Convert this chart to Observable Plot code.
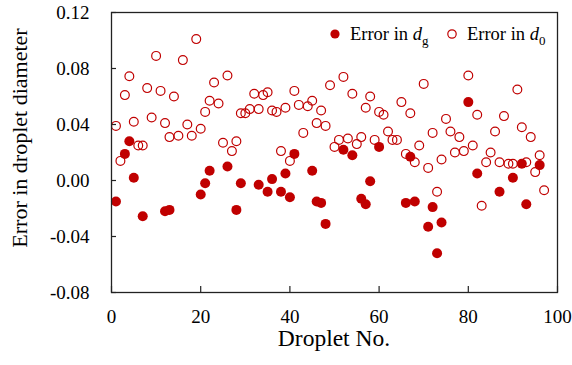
<!DOCTYPE html>
<html><head><meta charset="utf-8">
<script src="https://cdn.jsdelivr.net/npm/d3@7"></script>
<script src="https://cdn.jsdelivr.net/npm/@observablehq/plot@0.6"></script>
<style>
body{margin:0;background:#fff;}
#wrap{width:572px;height:365px;}
#wrap svg, #wrap svg text, #wrap svg tspan { font-family: "Liberation Serif", "Times New Roman", Tinos, serif !important; font-variant: normal !important; }
</style></head><body><div id="wrap"></div>
<script>
const dropletsD0 = [1,2,3,4,5,6,7,8,9,10,11,12,13,14,15,16,17,18,19,20,21,22,23,24,25,26,27,28,29,30,31,32,33,34,35,36,37,38,39,40,41,42,43,44,45,46,47,48,49,50,51,52,53,54,55,56,57,58,59,60,61,62,63,64,65,66,67,68,69,70,71,72,73,74,75,76,77,78,79,80,81,82,83,84,85,86,87,88,89,90,91,92,93,94,95,96,97];
const errorD0 = [0.039,0.014,0.061,0.0745,0.042,0.025,0.025,0.066,0.045,0.089,0.064,0.041,0.031,0.060,0.032,0.086,0.040,0.032,0.101,0.037,0.049,0.057,0.070,0.055,0.027,0.075,0.021,0.028,0.048,0.048,0.051,0.062,0.051,0.061,0.063,0.050,0.049,0.021,0.052,0.014,0.064,0.054,0.034,0.053,0.057,0.041,0.050,0.039,0.068,0.024,0.029,0.074,0.030,0.062,0.026,0.031,0.052,0.060,0.029,0.049,0.047,0.035,0.029,0.029,0.056,0.019,0.048,0.013,0.025,0.069,0.009,0.034,-0.008,0.015,0.044,0.035,0.020,0.031,0.021,0.075,0.025,0.047,-0.018,0.013,0.020,0.035,0.013,0.046,0.012,0.012,0.065,0.038,0.013,0.031,0.006,0.018,-0.007];
const dropletsDg = [1,3,4,5,7,12,13,20,21,22,26,28,29,33,35,36,38,39,40,41,45,46,47,48,52,54,56,57,58,60,66,67,68,71,72,73,74,80,82,87,90,92,93,96];
const errorDg = [-0.015,0.019,0.028,0.002,-0.0255,-0.022,-0.021,-0.010,-0.002,0.007,0.010,-0.021,-0.002,-0.003,-0.008,0.001,-0.008,0.005,-0.012,0.019,0.007,-0.015,-0.016,-0.031,0.022,0.018,-0.013,-0.017,-0.0005,0.024,-0.016,0.017,-0.015,-0.033,-0.019,-0.052,-0.030,0.056,0.005,-0.008,0.002,0.012,-0.017,0.011];
const xTicks = [0,20,40,60,80,100];
const yTicks = [-0.08,-0.04,0,0.04,0.08,0.12];
const xTitle = "Droplet No.";
const yTitle = "Error in droplet diameter";

const red = "#c00000";
const font = "'Liberation Serif', 'Times New Roman', serif";
const d0 = dropletsD0.map((x, i) => ({x, y: errorD0[i]}));
const dg = dropletsDg.map((x, i) => ({x, y: errorDg[i]}));

const plot = Plot.plot({
  width: 572, height: 365,
  marginLeft: 111, marginRight: 15, marginTop: 12, marginBottom: 73,
  style: {fontSize: "19px", color: "#000", background: "#fff"},
  x: {domain: [0, 100], label: null},
  y: {domain: [-0.08, 0.12], label: null},
  marks: [
    Plot.axisX({ticks: xTicks, tickSize: -6, tickPadding: 23, label: null, fontSize: 19, fill: "#000", stroke: "#222", strokeWidth: 1.2}),
    Plot.axisY({ticks: yTicks, tickSize: -5, tickPadding: 27, label: null, fontSize: 19, fill: "#000", tickFormat: d => d.toFixed(2), stroke: "#222", strokeWidth: 1.2}),
    Plot.dot(dg, {x: "x", y: "y", r: 5, fill: red, stroke: "none"}),
    Plot.dot(d0, {x: "x", y: "y", r: 4.4, fill: "none", stroke: red, strokeWidth: 1.2}),
    Plot.frame({stroke: "#222", strokeWidth: 1.3})
  ]
});
document.getElementById("wrap").appendChild(plot);

const svg = d3.select(plot);
// axis titles
svg.append("text").attr("x", 334).attr("y", 346)
  .attr("text-anchor", "middle").attr("font-size", 23.5).attr("fill", "#000")
  .text(xTitle);
svg.append("text").attr("transform", "translate(27,138) rotate(-90)")
  .attr("text-anchor", "middle").attr("font-size", 22).attr("fill", "#000")
  .text(yTitle);

// legend inside the plot area
const lg = svg.append("g").attr("font-size", 18.5).attr("fill", "#000").attr("text-anchor", "start");
function item(cx, cy, filled, sub) {
  lg.append("circle").attr("cx", cx).attr("cy", cy).attr("r", filled ? 4.6 : 4.2)
    .attr("fill", filled ? red : "none").attr("stroke", red).attr("stroke-width", filled ? 0 : 1.2);
  const t = lg.append("text").attr("x", cx + 15).attr("y", cy + 6).attr("text-anchor", "start");
  t.append("tspan").text("Error in ");
  t.append("tspan").attr("font-style", "italic").text("d");
  t.append("tspan").attr("font-size", 13).attr("dy", 5).text(sub);
}
item(335, 34, true, "g");
item(452, 34, false, "0");
</script>
</body></html>
